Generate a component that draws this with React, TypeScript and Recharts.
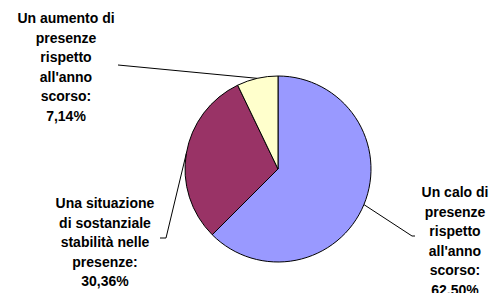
import { Cell, Pie, PieChart } from "recharts";

// categories, values and slice colours
const CATEGORIES = [
  "Un calo di\npresenze\nrispetto\nall'anno\nscorso:",
  "Una situazione\ndi sostanziale\nstabilità nelle\npresenze:",
  "Un aumento di\npresenze\nrispetto\nall'anno\nscorso:",
];
const VALUES = [62.5, 30.36, 7.14];
const COLORS = ["#9999FF", "#993366", "#FFFFCC"];

// where each label sits, relative to the pie centre (tx/ty = text centre and first baseline,
// ex/ey = leader line end, bx = short horizontal elbow)
const LABEL_LAYOUT = [
  { tx: 177, ty: 28, ex: 137, ey: 67, bx: 134 },
  { tx: -173, ty: 39, ex: -118, ey: 69, bx: -112 },
  { tx: -212, ty: -146, ex: -160, ey: -104, bx: -160 },
];

const LINE_H = 19.6;
const RADIAN = Math.PI / 180;

const data = CATEGORIES.map((name, i) => ({ name, value: VALUES[i] }));

const renderLabel = (props: any) => {
  const { cx, cy, midAngle, outerRadius, index, value } = props;
  const lay = LABEL_LAYOUT[index];
  const px = cx + outerRadius * Math.cos(-midAngle * RADIAN);
  const py = cy + outerRadius * Math.sin(-midAngle * RADIAN);
  const lines = [
    ...CATEGORIES[index].split("\n"),
    value.toFixed(2).replace(".", ",") + "%",
  ];
  return (
    <g key={`lbl-${index}`}>
      <polyline
        points={`${px},${py} ${cx + lay.bx},${cy + lay.ey} ${cx + lay.ex},${cy + lay.ey}`}
        fill="none"
        stroke="#000"
        strokeWidth={1}
      />
      <text
        x={cx + lay.tx}
        y={cy + lay.ty}
        textAnchor="middle"
        style={{ fontFamily: "Liberation Sans, Arial, sans-serif", fontWeight: 700, fontSize: 14 }}
        fill="#000"
      >
        {lines.map((l, i) => (
          <tspan key={i} x={cx + lay.tx} y={cy + lay.ty + i * LINE_H}>
            {l}
          </tspan>
        ))}
      </text>
    </g>
  );
};

export default function App() {
  return (
    <div style={{ position: "absolute", left: 0, top: 0, background: "#fff" }}>
      <PieChart width={493} height={293} margin={{ top: 0, right: 0, bottom: 0, left: 0 }}>
        <Pie
          data={data}
          dataKey="value"
          cx={278}
          cy={169}
          outerRadius={93}
          startAngle={90}
          endAngle={-270}
          stroke="#000"
          strokeWidth={1}
          labelLine={false}
          label={renderLabel}
          isAnimationActive={false}
        >
          {data.map((_, i) => (
            <Cell key={`cell-${i}`} fill={COLORS[i]} />
          ))}
        </Pie>
      </PieChart>
    </div>
  );
}
